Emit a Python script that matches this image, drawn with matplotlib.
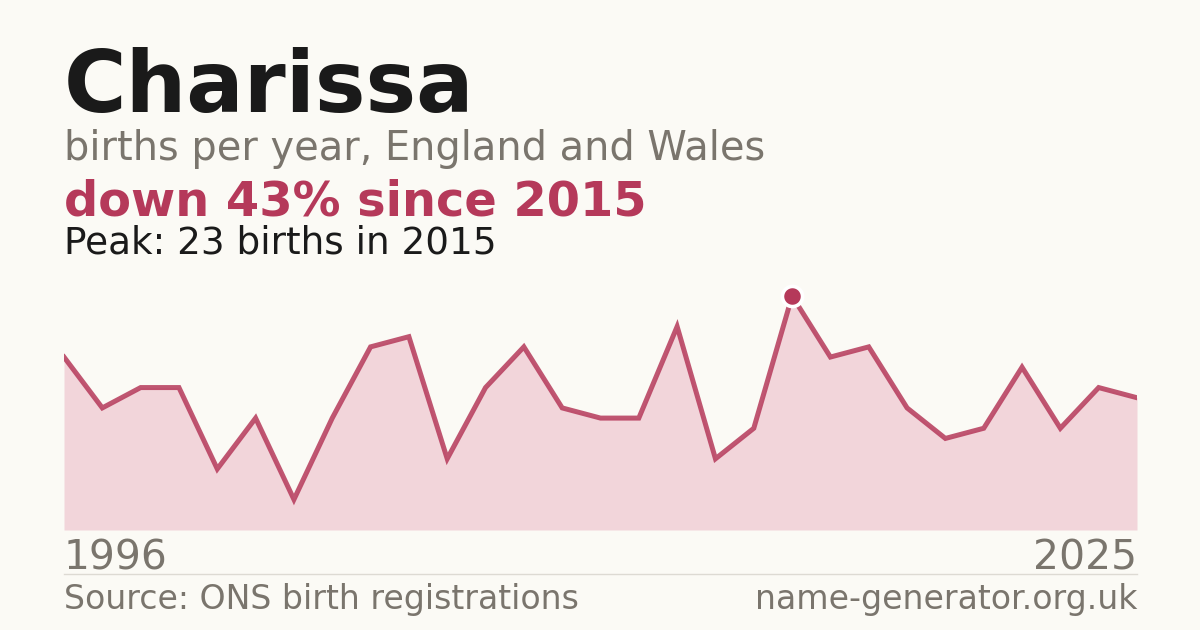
import matplotlib
matplotlib.use("Agg")
import matplotlib.pyplot as plt

years = list(range(1996, 2025))
births = [17, 12, 14, 14, 6, 11, 3, 11, 18, 19, 7, 14, 18, 12, 11, 11, 20, 7, 10,
          23, 17, 18, 12, 9, 10, 16, 10, 14, 13]
name = "Charissa"
subtitle = "births per year, England and Wales"
change_text = "down 43% since 2015"
peak_text = "Peak: 23 births in 2015"
start_label = "1996"
end_label = "2025"
source_text = "Source: ONS birth registrations"
site_text = "name-generator.org.uk"

BG = "#fbfaf5"
DARK = "#1a1a1a"
GRAY = "#7a756d"
RED = "#b5395a"
FILL = "#f2d5da"

W, H = 1200, 630
fig = plt.figure(figsize=(12, 6.3), dpi=100, facecolor=BG)
plt.rcParams['font.family'] = ['DejaVu Sans']

L, R, B, T = 64, 1137, 530, 296
ax = fig.add_axes([L / W, 1 - B / H, (R - L) / W, (B - T) / H])
ax.set_facecolor(BG)
ax.fill_between(years, births, 0, color=FILL, lw=0)
ax.plot(years, births, color=RED, lw=3.6, alpha=0.85, solid_joinstyle='miter')
pk = births.index(max(births))
ax.plot([years[pk]], [births[pk]], 'o', ms=14.5, mfc=RED, mec="white", mew=2.6, clip_on=False, zorder=5)
ax.set_xlim(years[0], years[-1])
ax.set_ylim(0, max(births))
ax.axis('off')

def t(x, y, s, **kw):
    fig.text(x / W, 1 - y / H, s, va='baseline', **kw)

t(64, 112, name, fontsize=61.4, fontweight='bold', color=DARK)
t(64, 160, subtitle, fontsize=28.7, color=GRAY)
t(64, 215, change_text, fontsize=34.5, fontweight='bold', color=RED)
t(64, 253, peak_text, fontsize=26.9, color=DARK)
t(64, 569, start_label, fontsize=29.4, color=GRAY)
t(1137, 569, end_label, fontsize=29.4, color=GRAY, ha='right')
t(64, 609, source_text, fontsize=23.9, color=GRAY)
t(1137, 609, site_text, fontsize=23.9, color=GRAY, ha='right')

fig.add_artist(plt.Line2D([64 / W, 1137 / W], [1 - 574 / H, 1 - 574 / H], color="#dddad3", lw=1))

fig.savefig("out.png", dpi=100, facecolor=BG)
